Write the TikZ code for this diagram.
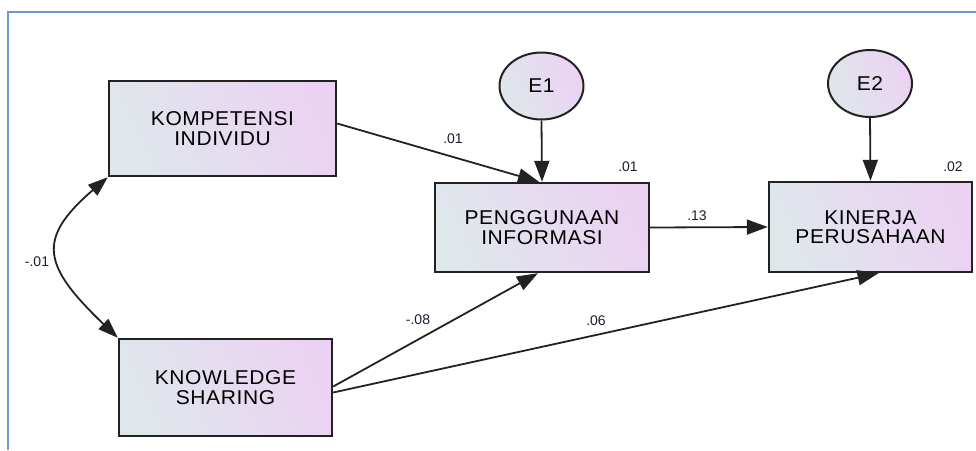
\documentclass[tikz,border=0pt]{standalone}
\usepackage{fontspec}
\setmainfont{Liberation Sans}
\newfontfamily\boxfont[LetterSpace=3,FakeStretch=1.05]{Liberation Sans}
\usepackage{tikz}
\usetikzlibrary{arrows.meta, shapes}
\definecolor{OBSL}{HTML}{DFE7EB}
\definecolor{OBSR}{HTML}{EBD2F3}
\definecolor{EDGE}{HTML}{222222}
\definecolor{FRAME}{HTML}{6A96D3}
\definecolor{NUMC}{HTML}{1C1C30}
\tikzset{
  OBS/.style={% Style for the observed variable boxes
      rectangle,
      line width=2.4pt,
      draw=EDGE,
      left color=OBSL, right color=OBSR, shading angle=115,
      align=center,
      inner sep=0pt,
      font=\boxfont\fontsize{20}{19.5}\selectfont,
  },
  ERR/.style={% Style for the error terms
      ellipse,
      line width=2pt,
      draw=EDGE,
      left color=OBSL, right color=OBSR, shading angle=115,
      minimum width=84pt, minimum height=67pt,
      inner sep=0pt,
      font=\boxfont\fontsize{20}{20}\selectfont,
  },
  REG/.style={-{Triangle[length=21pt,width=15pt]}, line width=1.8pt, draw=EDGE},
  COV/.style={{Triangle[length=20pt,width=14pt]}-{Triangle[length=20pt,width=14pt]}, line width=1.8pt, draw=EDGE},
  NUM/.style={font=\fontsize{14}{14}\selectfont, text=NUMC, inner sep=0pt}
}

\begin{document}
\begin{tikzpicture}[x=1pt, y=-1pt]
    \useasboundingbox (0,0) rectangle (976,450);
    % window frame
    \draw[FRAME, line width=1.6pt] (976,12) -- (8,12) -- (8,450);

    % variables
    \node[OBS, minimum width=227pt, minimum height=95pt] (kompetensi) at (222.5,128.5) {KOMPETENSI\\INDIVIDU};
    \node[OBS, minimum width=213pt, minimum height=97pt] (knowledge) at (225.5,387.5) {KNOWLEDGE\\SHARING};
    \node[OBS, minimum width=214pt, minimum height=89pt] (penggunaan) at (542,227.5) {PENGGUNAAN\\INFORMASI};
    \node[OBS, minimum width=203pt, minimum height=90pt] (kinerja) at (870.5,227) {KINERJA\\PERUSAHAAN};
    \node[ERR] (e1) at (541.5,86) {E1};
    \node[ERR] (e2) at (870,83.5) {E2};

    % paths
    \draw[REG] ([yshift=5pt]kompetensi.east) -- ([xshift=-3pt]penggunaan.north);
    \draw[REG] (e1.south) -- (penggunaan.north);
    \draw[REG] (e2.south) -- (kinerja.north);
    \draw[REG] (penggunaan.east) -- (kinerja.west);
    \draw[REG] ([yshift=1pt]knowledge.east) -- ([xshift=-4pt]penggunaan.south);
    \draw[REG] ([yshift=-5pt]knowledge.east) -- ([xshift=8pt]kinerja.south);
    \draw[COV] (kompetensi.south west) .. controls +(-72,62) and +(-75,-72) .. (knowledge.north west);

    % estimates
    \node[NUM] (bKP) at (453,139) {.01};
    \node[NUM] (r2P) at (628,167) {.01};
    \node[NUM] (r2K) at (953,167) {.02};
    \node[NUM] (bPK) at (697,216) {.13};
    \node[NUM] (bSP) at (418,320) {-.08};
    \node[NUM] (bSK) at (596,321) {.06};
    \node[NUM] (cKS) at (37,262) {-.01};
\end{tikzpicture}
\end{document}
